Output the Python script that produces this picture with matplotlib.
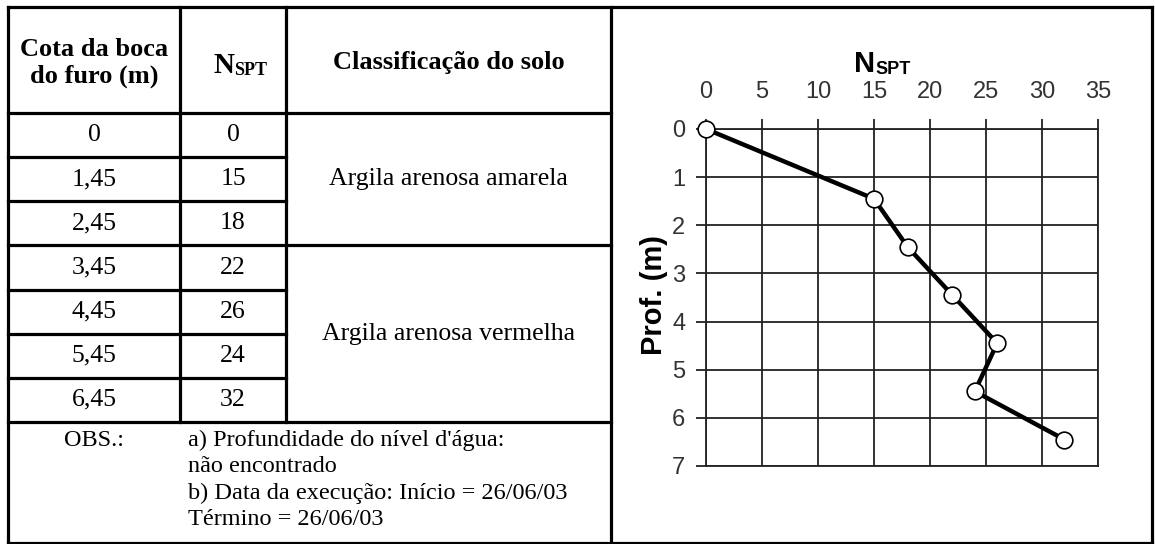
import matplotlib
matplotlib.use('Agg')
from matplotlib import pyplot as plt

# boring data
depth = [0, 1.45, 2.45, 3.45, 4.45, 5.45, 6.45]
nspt = [0, 15, 18, 22, 26, 24, 32]
depth_labels = ['0', '1,45', '2,45', '3,45', '4,45', '5,45', '6,45']
nspt_labels = ['0', '15', '18', '22', '26', '24', '32']
soil_classes = ['Argila arenosa amarela', 'Argila arenosa vermelha']
soil_spans = [(0, 3), (3, 7)]
obs_lines = ["a) Profundidade do nível d'água:",
             "não encontrado",
             "b) Data da execução: Início = 26/06/03",
             "Término = 26/06/03"]
x_ticks = [0, 5, 10, 15, 20, 25, 30, 35]
y_ticks = [0, 1, 2, 3, 4, 5, 6, 7]

plt.rcParams['font.family'] = ['Liberation Sans', 'DejaVu Sans']

fig = plt.figure(figsize=(11.55, 5.44), dpi=100)

# table layer in pixel coords
tab = fig.add_axes([0, 0, 1, 1])
tab.set_xlim(0, 1155)
tab.set_ylim(544, 0)
tab.axis('off')

serif = 'Liberation Serif'
lw_b = 2.3


def hline(y, x0, x1):
    tab.plot([x0, x1], [y, y], color='black', lw=lw_b, solid_capstyle='projecting')


def vline(x, y0, y1):
    tab.plot([x, x], [y0, y1], color='black', lw=lw_b, solid_capstyle='projecting')


cols = [8, 180, 286, 611]
top, head_bot, obs_top, bot, right = 7, 113, 422, 542.5, 1151.5
row_h = (obs_top - head_bot) / len(depth)

# outer frame
hline(top, cols[0], right)
hline(bot, cols[0], right)
vline(cols[0], top, bot)
vline(right, top, bot)
vline(cols[3], top, bot)
vline(cols[1], top, obs_top)
vline(cols[2], top, obs_top)
hline(head_bot, cols[0], cols[3])
hline(obs_top, cols[0], cols[3])
for i in range(1, len(depth)):
    y = head_bot + i * row_h
    if any(i == s[0] for s in soil_spans):
        hline(y, cols[0], cols[3])
    else:
        hline(y, cols[0], cols[2])

# header
c1 = (cols[0] + cols[1]) / 2
c2 = (cols[1] + cols[2]) / 2
c3 = (cols[2] + cols[3]) / 2
tab.text(c1, 63, 'Cota da boca\ndo furo (m)', ha='center', va='center',
         family=serif, fontweight='bold', fontsize=19)
n_txt = tab.text(c2 + 1, 73, 'N', ha='right', va='baseline',
                 family=serif, fontweight='bold', fontsize=21)
tab.annotate('SPT', xy=(1, 0), xycoords=n_txt, ha='left', va='bottom',
             family=serif, fontweight='bold', fontsize=13)
tab.text(c3, 69, 'Classificação do solo', ha='center', va='baseline',
         family=serif, fontweight='bold', fontsize=19)

# body rows
for i in range(len(depth)):
    yc = head_bot + (i + 0.5) * row_h
    tab.text(c1, yc, depth_labels[i], ha='center', va='center', family=serif, fontsize=18.5)
    tab.text(c2, yc, nspt_labels[i], ha='center', va='center', family=serif, fontsize=18.5)
for name, (r0, r1) in zip(soil_classes, soil_spans):
    yc = head_bot + (r0 + r1) / 2 * row_h
    tab.text(c3, yc, name, ha='center', va='center', family=serif, fontsize=18.5)

# observations
tab.text(c1, 440, 'OBS.:', ha='center', va='center', family=serif, fontsize=17.5)
for k, line in enumerate(obs_lines):
    tab.text(188, 440 + k * 26.5, line, ha='left', va='center', family=serif, fontsize=17.5)

# chart
ax = fig.add_axes([706 / 1155, 78 / 544, 392 / 1155, 337 / 544])
ax.patch.set_visible(False)
ax.plot(nspt, depth, color='black', lw=3.2, marker='o', ms=12,
        mfc='white', mec='black', mew=1.2, clip_on=False, zorder=3)
ax.set_xlim(0, 35)
ax.set_ylim(7, 0)
ax.xaxis.tick_top()
ax.set_xticks(x_ticks)
ax.set_yticks(y_ticks)
ax.grid(True, color='#222222', lw=1.3)
for sp in ax.spines.values():
    sp.set_color('#222222')
    sp.set_linewidth(1.3)
ax.tick_params(direction='out', length=7, width=1.3, color='#222222',
               labelsize=17, labelcolor='#333333')
ax.tick_params(axis='x', pad=12)
ax.tick_params(axis='y', pad=8)

t_n = tab.text(854, 72, 'N', ha='left', va='baseline', fontweight='bold', fontsize=21)
tab.annotate('SPT', xy=(1, 0), xycoords=t_n, ha='left', va='bottom',
             fontweight='bold', fontsize=13)
tab.text(654, 295, 'Prof. (m)', rotation=90, ha='center', va='center',
         fontweight='bold', fontsize=21)

fig.savefig('out.png', dpi=100)
